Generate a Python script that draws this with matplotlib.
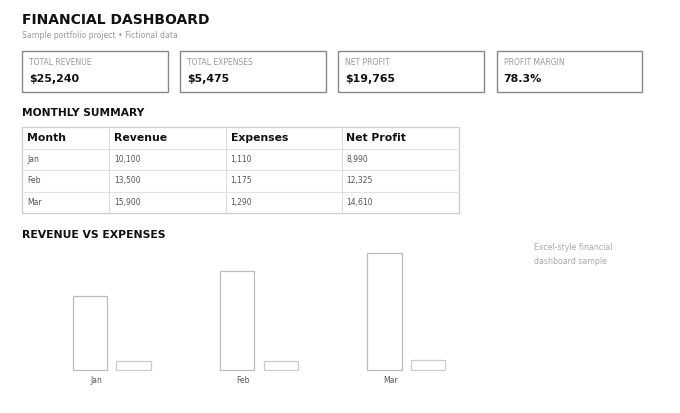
import matplotlib
matplotlib.use("Agg")
import matplotlib.pyplot as plt
from matplotlib.patches import Rectangle
from matplotlib.lines import Line2D

# ---------------- data ----------------
kpi_labels = ["TOTAL REVENUE", "TOTAL EXPENSES", "NET PROFIT", "PROFIT MARGIN"]
kpi_values = ["$25,240", "$5,475", "$19,765", "78.3%"]

table_columns = ["Month", "Revenue", "Expenses", "Net Profit"]
months = ["Jan", "Feb", "Mar"]
revenue = [10100, 13500, 15900]
expenses = [1110, 1175, 1290]
net_profit = [8990, 12325, 14610]

title = "FINANCIAL DASHBOARD"
subtitle = "Sample portfolio project \u2022 Fictional data"
note_lines = ["Excel-style financial", "dashboard sample"]

# ---------------- layout helpers ----------------
W, H = 680, 413
fig = plt.figure(figsize=(W / 100, H / 100), dpi=100)
fig.patch.set_facecolor("white")
plt.rcParams['font.family'] = ['DejaVu Sans']


def fx(x):
    return x / W


def fy(y):
    return 1 - y / H


def rect(x0, y0, x1, y1, ec, lw):
    fig.add_artist(Rectangle((fx(x0), fy(y1)), fx(x1) - fx(x0), fy(y0) - fy(y1),
                             transform=fig.transFigure, facecolor="none",
                             edgecolor=ec, linewidth=lw))


def hline(x0, x1, y, c, lw):
    fig.add_artist(Line2D([fx(x0), fx(x1)], [fy(y), fy(y)], transform=fig.transFigure,
                          color=c, linewidth=lw))


def vline(x, y0, y1, c, lw):
    fig.add_artist(Line2D([fx(x), fx(x)], [fy(y0), fy(y1)], transform=fig.transFigure,
                          color=c, linewidth=lw))


# ---------------- header ----------------
fig.text(fx(22), fy(20), title, fontsize=10.0, fontweight="bold", color="#111111",
         ha="left", va="center")
fig.text(fx(22), fy(36), subtitle, fontsize=5.6, color="#999999", ha="left", va="center")

# ---------------- KPI cards ----------------
card_w, card_gap = 145.5, 12.7
for i, (lab, val) in enumerate(zip(kpi_labels, kpi_values)):
    x0 = 22 + i * (card_w + card_gap)
    rect(x0, 51.5, x0 + card_w, 92, "#888888", 1.0)
    fig.text(fx(x0 + 7), fy(62.5), lab, fontsize=5.5, color="#999999", ha="left", va="center")
    fig.text(fx(x0 + 7), fy(79), val, fontsize=7.9, fontweight="bold", color="#111111",
             ha="left", va="center")

# ---------------- monthly summary table ----------------
fig.text(fx(22), fy(113), "MONTHLY SUMMARY", fontsize=7.7, fontweight="bold",
         color="#111111", ha="left", va="center")
col_x = [22, 109, 225.5, 341.5, 459]
row_y = [126.5, 148.5, 170, 191.5, 213]
for y in row_y[1:-1]:
    hline(col_x[0], col_x[-1], y, "#e2e2e2", 0.8)
for x in col_x[1:-1]:
    vline(x, row_y[0], row_y[-1], "#dddddd", 0.8)
rect(col_x[0], row_y[0], col_x[-1], row_y[-1], "#cccccc", 0.9)
for j, name in enumerate(table_columns):
    fig.text(fx(col_x[j] + 5), fy((row_y[0] + row_y[1]) / 2 + 0.5), name, fontsize=7.8,
             fontweight="bold", color="#111111", ha="left", va="center")
rows = [[m, f"{r:,}", f"{e:,}", f"{p:,}"] for m, r, e, p in zip(months, revenue, expenses, net_profit)]
for i, row in enumerate(rows):
    yc = (row_y[i + 1] + row_y[i + 2]) / 2
    for j, cell in enumerate(row):
        fig.text(fx(col_x[j] + 5), fy(yc), cell, fontsize=5.5, color="#555555",
                 ha="left", va="center")

# ---------------- revenue vs expenses chart ----------------
fig.text(fx(22), fy(235), "REVENUE VS EXPENSES", fontsize=7.8, fontweight="bold",
         color="#111111", ha="left", va="center")

ax_left, ax_right, ax_bottom, ax_top = 22, 520, 369.5, 240
ax = fig.add_axes([fx(ax_left), fy(ax_bottom), fx(ax_right) - fx(ax_left),
                   fy(ax_top) - fy(ax_bottom)])
group_px = 147.3
x0_px = 72.7
ax.set_xlim((ax_left - x0_px) / group_px, (ax_right - x0_px) / group_px)
px_per_unit = 116.3 / 15900
ax.set_ylim(0, (ax_bottom - ax_top) / px_per_unit)

bar_w = 34.3 / group_px
exp_off = 43.7 / group_px
xs = list(range(len(months)))
rb = ax.bar(xs, revenue, width=bar_w, align="edge", facecolor="white",
            edgecolor="#bbbbbb", linewidth=0.9)
eb = ax.bar([x + exp_off for x in xs], expenses, width=bar_w, align="edge", facecolor="white",
            edgecolor="#cccccc", linewidth=0.9)
for p in list(rb) + list(eb):
    p.set_clip_on(False)
ax.set_xticks([x + 23.3 / group_px for x in xs])
ax.set_xticklabels(months, fontsize=5.5, color="#555555")
ax.tick_params(axis="x", length=0, pad=4.5)
ax.set_yticks([])
for s in ax.spines.values():
    s.set_visible(False)
ax.patch.set_alpha(0)

fig.text(fx(534), fy(247), note_lines[0], fontsize=5.7, color="#aaaaaa", ha="left", va="center")
fig.text(fx(534), fy(262), note_lines[1], fontsize=5.7, color="#aaaaaa", ha="left", va="center")

fig.savefig("out.png", dpi=100, facecolor="white")
